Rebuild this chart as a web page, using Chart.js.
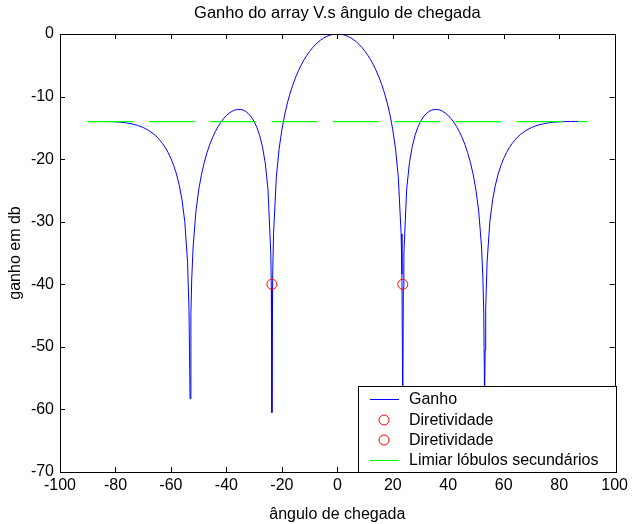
<!DOCTYPE html>
<html lang="pt">
<head>
<meta charset="utf-8">
<title>Ganho do array</title>
<script src="https://cdn.jsdelivr.net/npm/chart.js@4.4.1/dist/chart.umd.min.js"></script>
<style>
    html, body { margin: 0; padding: 0; background: #fff; }
    #grafico { display: block; }
</style>
</head>
<body>
<canvas id="grafico" width="632" height="524"></canvas>
<script>
// Ganho do array (dB) por ângulo de chegada (graus)
const angulos = [
    -90, -88, -86, -84, -82, -80, -78, -76, -74, -72, -70, -68, -66, -65, -64, -63, -62, -61, -60, -59,
    -58, -57, -56, -55, -54, -53.5, -53.3, -53.1, -52.8, -52.5, -52, -51, -50, -49, -48, -47, -46, -45,
    -44, -43, -42, -41, -40, -39, -38, -37, -36, -35, -34, -33, -32, -31, -30, -29, -28, -27, -26, -25,
    -24, -23.8, -23.6, -23.3, -23, -22, -21, -20, -19, -18, -17, -16, -15, -14, -13, -12, -11, -10, -9,
    -8, -7, -6, -5, -4, -3, -2, -1, 0,
    1, 2, 3, 4, 5, 6, 7, 8, 9, 10, 11, 12, 13, 14, 15, 16, 17, 18, 19, 20, 21, 22, 23, 23.3, 23.6, 23.8,
    24, 25, 26, 27, 28, 29, 30, 31, 32, 33, 34, 35, 36, 37, 38, 39, 40, 41, 42, 43, 44, 45, 46, 47, 48,
    49, 50, 51, 52, 52.5, 52.8, 53.1, 53.3, 53.5, 54, 55, 56, 57, 58, 59, 60, 61, 62, 63, 64, 65, 66, 68,
    70, 72, 74, 76, 78, 80, 82, 84, 86, 88, 90
];
const ganhoDb = [
    -13.98, -13.98, -13.98, -13.99, -14.00, -14.04, -14.10, -14.21, -14.38, -14.61, -14.95, -15.42, -16.07,
    -16.48, -16.97, -17.52, -18.17, -18.96, -19.87, -21.02, -22.38, -24.16, -26.49, -30.01, -36.49, -43.83,
    -50.6, -58.3, -44.7, -39.16, -34.05, -28.41, -24.95, -22.49, -20.55, -18.98, -17.66, -16.55, -15.60,
    -14.79, -14.10, -13.52, -13.03, -12.65, -12.36, -12.16, -12.06, -12.05, -12.16, -12.39, -12.75, -13.27,
    -13.98, -14.94, -16.23, -18.01, -20.59, -24.83, -35.0, -40.5, -60.5, -38.4, -31.94, -22.93, -18.39,
    -15.32, -12.94, -11.02, -9.43, -8.07, -6.88, -5.84, -4.93, -4.12, -3.41, -2.78, -2.22, -1.74, -1.32,
    -0.96, -0.66, -0.42, -0.24, -0.10, -0.03, 0,
    -0.03, -0.10, -0.24, -0.42, -0.66, -0.96, -1.32, -1.74, -2.22, -2.78, -3.41, -4.12, -4.93, -5.84, -6.88,
    -8.07, -9.43, -11.02, -12.94, -15.32, -18.39, -22.93, -31.94, -38.4, -60.5, -40.5, -35.0, -24.83,
    -20.59, -18.01, -16.23, -14.94, -13.98, -13.27, -12.75, -12.39, -12.16, -12.05, -12.06, -12.16, -12.36,
    -12.65, -13.03, -13.52, -14.10, -14.79, -15.60, -16.55, -17.66, -18.98, -20.55, -22.49, -24.95, -28.41,
    -34.05, -39.16, -44.7, -58.3, -50.6, -43.83, -36.49, -30.01, -26.49, -24.16, -22.38, -21.02, -19.87,
    -18.96, -18.17, -17.52, -16.97, -16.48, -16.07, -15.42, -14.95, -14.61, -14.38, -14.21, -14.10, -14.04,
    -14.00, -13.99, -13.98, -13.98, -13.98
];

// Marcadores de diretividade (nulos principais)
const diretividadeEsq = [{ x: -23.6, y: -40 }];
const diretividadeDir = [{ x: 23.6, y: -40 }];

// Limiar dos lóbulos secundários
const limiarAngulos = [-90, 90];
const limiarDb = -14;

// Eixos
const eixoX = { min: -100, max: 100, passo: 20 };
const eixoY = { min: -70, max: 0, passo: 10 };

const FONTE = '"Liberation Sans", Arial, Helvetica, sans-serif';
const AZUL = '#0000ff';
const VERMELHO = '#ff0000';
const VERDE = '#00ff00';

const pontosGanho = angulos.map((a, i) => ({ x: a, y: ganhoDb[i] }));
const pontosLimiar = limiarAngulos.map(a => ({ x: a, y: limiarDb }));

// Moldura, marcas internas, título e legenda desenhados à mão
const molduraPlugin = {
    id: 'moldura',
    afterDraw(chart) {
        const ctx = chart.ctx;
        const area = chart.chartArea;
        const sx = chart.scales.x;
        const sy = chart.scales.y;
        const tam = 5;

        ctx.save();
        ctx.strokeStyle = '#000';
        ctx.lineWidth = 1;

        // marcas para dentro nos quatro lados
        ctx.beginPath();
        for (let v = eixoX.min + eixoX.passo; v < eixoX.max; v += eixoX.passo) {
            const px = Math.round(sx.getPixelForValue(v)) + 0.5;
            ctx.moveTo(px, area.bottom);
            ctx.lineTo(px, area.bottom - tam);
            ctx.moveTo(px, area.top);
            ctx.lineTo(px, area.top + tam);
        }
        for (let v = eixoY.min + eixoY.passo; v < eixoY.max; v += eixoY.passo) {
            const py = Math.round(sy.getPixelForValue(v)) + 0.5;
            ctx.moveTo(area.left, py);
            ctx.lineTo(area.left + tam, py);
            ctx.moveTo(area.right, py);
            ctx.lineTo(area.right - tam, py);
        }
        ctx.stroke();

        ctx.strokeRect(Math.round(area.left) + 0.5, Math.round(area.top) + 0.5,
            Math.round(area.right - area.left), Math.round(area.bottom - area.top));

        // título
        ctx.fillStyle = '#000';
        ctx.font = '16.5px ' + FONTE;
        ctx.textAlign = 'center';
        ctx.textBaseline = 'middle';
        ctx.fillText('Ganho do array V.s ângulo de chegada', (area.left + area.right) / 2, 13);

        // legenda no canto inferior direito
        const lx = 358.5, ly = 386.5, lw = 258, lh = 86;
        ctx.fillStyle = '#fff';
        ctx.fillRect(lx, ly, lw, lh);
        ctx.strokeStyle = '#000';
        ctx.strokeRect(lx, ly, lw, lh);

        const itens = [
            { tipo: 'linha', cor: AZUL, y: 399 },
            { tipo: 'circulo', cor: VERMELHO, y: 420 },
            { tipo: 'circulo', cor: VERMELHO, y: 440 },
            { tipo: 'linha', cor: VERDE, y: 460 }
        ];
        ctx.font = '16px ' + FONTE;
        ctx.textAlign = 'left';
        chart.data.datasets.forEach((ds, i) => {
            const item = itens[i];
            ctx.beginPath();
            ctx.strokeStyle = item.cor;
            ctx.lineWidth = 1;
            if (item.tipo === 'circulo') {
                ctx.arc(384, item.y, 5, 0, Math.PI * 2);
            } else {
                ctx.moveTo(370, item.y + 0.5);
                ctx.lineTo(399, item.y + 0.5);
            }
            ctx.stroke();
            ctx.fillStyle = '#000';
            ctx.fillText(ds.label, 409, item.y + 1);
        });
        ctx.restore();
    }
};

new Chart(document.getElementById('grafico'), {
    type: 'line',
    data: {
        datasets: [
            {
                label: 'Ganho',
                data: pontosGanho,
                borderColor: AZUL,
                borderWidth: 1,
                pointRadius: 0,
                tension: 0,
                order: 3
            },
            {
                label: 'Diretividade',
                data: diretividadeEsq,
                showLine: false,
                borderColor: VERMELHO,
                backgroundColor: 'rgba(0,0,0,0)',
                pointRadius: 5,
                pointBorderWidth: 1,
                order: 2
            },
            {
                label: 'Diretividade',
                data: diretividadeDir,
                showLine: false,
                borderColor: VERMELHO,
                backgroundColor: 'rgba(0,0,0,0)',
                pointRadius: 5,
                pointBorderWidth: 1,
                order: 1
            },
            {
                label: 'Limiar lóbulos secundários',
                data: pontosLimiar,
                borderColor: VERDE,
                borderWidth: 1.3,
                borderDash: [45.7, 15.6],
                pointRadius: 0,
                order: 0
            }
        ]
    },
    options: {
        responsive: false,
        animation: false,
        layout: { padding: { top: 34, right: 15, left: 0, bottom: 0 } },
        plugins: {
            legend: { display: false },
            tooltip: { enabled: false },
            title: { display: false }
        },
        scales: {
            x: {
                type: 'linear',
                min: eixoX.min,
                max: eixoX.max,
                grid: { display: false, drawTicks: false },
                border: { display: false },
                ticks: {
                    stepSize: eixoX.passo,
                    padding: 4,
                    color: '#000',
                    font: { family: FONTE, size: 16 },
                    maxRotation: 0
                },
                title: {
                    display: true,
                    text: 'ângulo de chegada',
                    color: '#000',
                    font: { family: FONTE, size: 16 },
                    padding: { top: 5, bottom: 0 }
                },
                afterFit(scale) { scale.height = 52; }
            },
            y: {
                min: eixoY.min,
                max: eixoY.max,
                grid: { display: false, drawTicks: false },
                border: { display: false },
                ticks: {
                    stepSize: eixoY.passo,
                    padding: 6,
                    color: '#000',
                    font: { family: FONTE, size: 16 }
                },
                title: {
                    display: true,
                    text: 'ganho em db',
                    color: '#000',
                    font: { family: FONTE, size: 16 },
                    padding: { top: 6, bottom: 0 }
                },
                afterFit(scale) { scale.width = 60; }
            }
        }
    },
    plugins: [molduraPlugin]
});
</script>
</body>
</html>
